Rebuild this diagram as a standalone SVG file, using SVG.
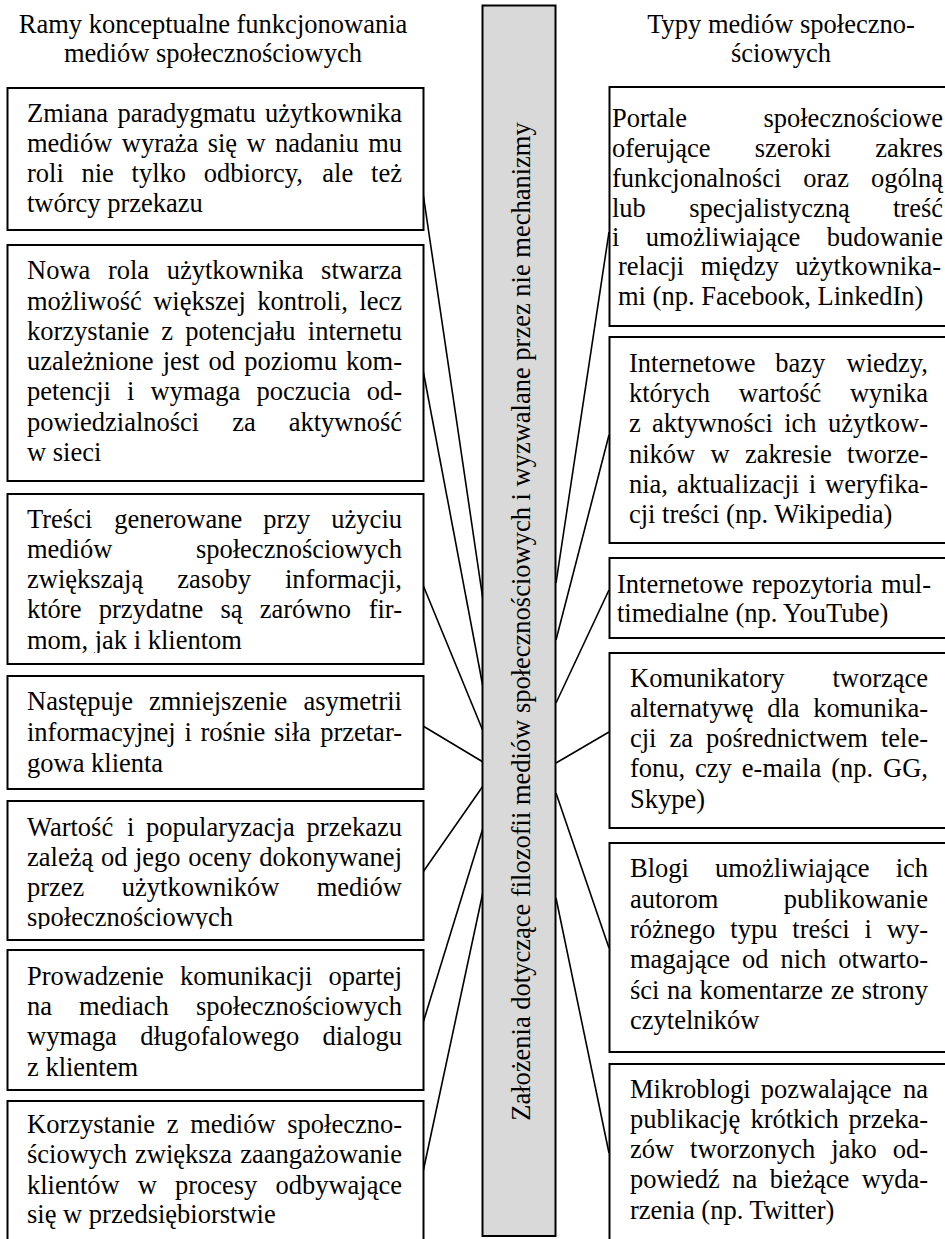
<svg xmlns="http://www.w3.org/2000/svg" width="945" height="1239" viewBox="0 0 945 1239">
<style>
.t{font-family:"Liberation Serif","Times New Roman",serif;font-size:26.5px;fill:#000}
.box{fill:#fff;stroke:#000;stroke-width:2}
.bar{fill:#d9d9d9;stroke:#000;stroke-width:2}
.c{stroke:#000;stroke-width:1.6;fill:none}
.e{text-anchor:end}
.m{text-anchor:middle}
</style>
<defs>
<clipPath id="clip3"><rect x="8" y="495" width="414" height="158"/></clipPath>
<clipPath id="clip5"><rect x="8" y="802" width="414" height="127"/></clipPath>
</defs>
<rect width="945" height="1239" fill="#fff"/>
<g id="titles">
<text class="t m" x="213" y="33">Ramy konceptualne funkcjonowania</text>
<text class="t m" x="213" y="62">mediów społecznościowych</text>
<text class="t m" x="781" y="33">Typy mediów społeczno-</text>
<text class="t m" x="781" y="62">ściowych</text>
</g>
<g id="connectors">
<line class="c" x1="423" y1="193" x2="483" y2="600"/>
<line class="c" x1="423" y1="370" x2="483" y2="687"/>
<line class="c" x1="423" y1="585" x2="483" y2="731"/>
<line class="c" x1="423" y1="726" x2="483" y2="762"/>
<line class="c" x1="423" y1="872" x2="483" y2="786"/>
<line class="c" x1="423" y1="1023" x2="483" y2="828"/>
<line class="c" x1="423" y1="1172" x2="483" y2="892"/>
<line class="c" x1="609" y1="232" x2="556" y2="583"/>
<line class="c" x1="609" y1="435" x2="556" y2="640"/>
<line class="c" x1="609" y1="590" x2="556" y2="703"/>
<line class="c" x1="609" y1="732" x2="556" y2="763"/>
<line class="c" x1="556" y1="793" x2="609" y2="948"/>
<line class="c" x1="556" y1="898" x2="609" y2="1153"/>
</g>
<g id="center">
<rect class="bar" x="482.5" y="5.5" width="73" height="1230.5"/>
<text class="t m" transform="translate(530 621.5) rotate(-90)" x="0" y="0">Założenia dotyczące filozofii mediów społecznościowych i wyzwalane przez nie mechanizmy</text>
</g>
<g id="left1">
<rect class="box" x="7.5" y="88" width="416" height="142"/>
<text class="t" y="122"><tspan x="27">Zmiana</tspan><tspan x="117.4">paradygmatu</tspan><tspan x="402" class="e">użytkownika</tspan></text>
<text class="t" y="152"><tspan x="27">mediów</tspan><tspan x="121.8">wyraża</tspan><tspan x="207.7">się</tspan><tspan x="246.4">w</tspan><tspan x="274.9">nadaniu</tspan><tspan x="402" class="e">mu</tspan></text>
<text class="t" y="182"><tspan x="27">roli</tspan><tspan x="81.5">nie</tspan><tspan x="131.6">tylko</tspan><tspan x="203.8">odbiorcy,</tspan><tspan x="322.3">ale</tspan><tspan x="402" class="e">też</tspan></text>
<text class="t" x="27" y="212">twórcy przekazu</text>
</g>
<g id="left2">
<rect class="box" x="7.5" y="245" width="416" height="236"/>
<text class="t" y="279"><tspan x="27">Nowa</tspan><tspan x="107.9">rola</tspan><tspan x="166.7">użytkownika</tspan><tspan x="402" class="e">stwarza</tspan></text>
<text class="t" y="310"><tspan x="27">możliwość</tspan><tspan x="153.2">większej</tspan><tspan x="257.3">kontroli,</tspan><tspan x="402" class="e">lecz</tspan></text>
<text class="t" y="340"><tspan x="27">korzystanie</tspan><tspan x="161.3">z</tspan><tspan x="185.2">potencjału</tspan><tspan x="402" class="e">internetu</tspan></text>
<text class="t" y="370"><tspan x="27">uzależnione</tspan><tspan x="162.7">jest</tspan><tspan x="208.6">od</tspan><tspan x="244.2">poziomu</tspan><tspan x="402" class="e">kom-</tspan></text>
<text class="t" y="400"><tspan x="27">petencji</tspan><tspan x="127">i</tspan><tspan x="150.5">wymaga</tspan><tspan x="256.4">poczucia</tspan><tspan x="402" class="e">od-</tspan></text>
<text class="t" y="431"><tspan x="27">powiedzialności</tspan><tspan x="232.2">za</tspan><tspan x="402" class="e">aktywność</tspan></text>
<text class="t" x="27" y="461">w sieci</text>
</g>
<g id="left3">
<rect class="box" x="7.5" y="494" width="416" height="170"/>
<g clip-path="url(#clip3)">
<text class="t" y="528"><tspan x="27">Treści</tspan><tspan x="114.2">generowane</tspan><tspan x="263.2">przy</tspan><tspan x="402" class="e">użyciu</tspan></text>
<text class="t" y="558"><tspan x="27">mediów</tspan><tspan x="402" class="e">społecznościowych</tspan></text>
<text class="t" y="588"><tspan x="27">zwiększają</tspan><tspan x="177.3">zasoby</tspan><tspan x="402" class="e">informacji,</tspan></text>
<text class="t" y="618"><tspan x="27">które</tspan><tspan x="98.7">przydatne</tspan><tspan x="220.4">są</tspan><tspan x="259.7">zarówno</tspan><tspan x="402" class="e">fir-</tspan></text>
<text class="t" x="27" y="649">mom, jak i klientom</text>
</g>
</g>
<g id="left4">
<rect class="box" x="7.5" y="676" width="416" height="113"/>
<text class="t" y="710"><tspan x="27">Następuje</tspan><tspan x="149">zmniejszenie</tspan><tspan x="402" class="e">asymetrii</tspan></text>
<text class="t" y="741"><tspan x="27">informacyjnej</tspan><tspan x="184.4">i</tspan><tspan x="200.5">rośnie</tspan><tspan x="274">siła</tspan><tspan x="402" class="e">przetar-</tspan></text>
<text class="t" x="27" y="772">gowa klienta</text>
</g>
<g id="left5">
<rect class="box" x="7.5" y="801" width="416" height="139"/>
<g clip-path="url(#clip5)">
<text class="t" y="836"><tspan x="27">Wartość</tspan><tspan x="127">i</tspan><tspan x="146.1">popularyzacja</tspan><tspan x="402" class="e">przekazu</tspan></text>
<text class="t" y="866"><tspan x="27">zależą</tspan><tspan x="100.9">od</tspan><tspan x="135">jego</tspan><tspan x="188.3">oceny</tspan><tspan x="402" class="e">dokonywanej</tspan></text>
<text class="t" y="896"><tspan x="27">przez</tspan><tspan x="121.8">użytkowników</tspan><tspan x="402" class="e">mediów</tspan></text>
<text class="t" x="27" y="926">społecznościowych</text>
</g>
</g>
<g id="left6">
<rect class="box" x="7.5" y="950" width="416" height="140"/>
<text class="t" y="985"><tspan x="27">Prowadzenie</tspan><tspan x="179.9">komunikacji</tspan><tspan x="402" class="e">opartej</tspan></text>
<text class="t" y="1015"><tspan x="27">na</tspan><tspan x="79">mediach</tspan><tspan x="402" class="e">społecznościowych</tspan></text>
<text class="t" y="1045"><tspan x="27">wymaga</tspan><tspan x="140.2">długofalowego</tspan><tspan x="402" class="e">dialogu</tspan></text>
<text class="t" x="27" y="1076">z klientem</text>
</g>
<g id="left7">
<rect class="box" x="7.5" y="1101" width="416" height="160"/>
<text class="t" y="1133"><tspan x="27">Korzystanie</tspan><tspan x="166.7">z</tspan><tspan x="190.2">mediów</tspan><tspan x="402" class="e">społeczno-</tspan></text>
<text class="t" y="1163"><tspan x="27">ściowych</tspan><tspan x="135">zwiększa</tspan><tspan x="402" class="e">zaangażowanie</tspan></text>
<text class="t" y="1194"><tspan x="27">klientów</tspan><tspan x="137.8">w</tspan><tspan x="174.9">procesy</tspan><tspan x="402" class="e">odbywające</tspan></text>
<text class="t" x="27" y="1223">się w przedsiębiorstwie</text>
</g>
<g id="right1">
<rect class="box" x="609.5" y="87" width="345" height="239"/>
<text class="t" y="127"><tspan x="612">Portale</tspan><tspan x="943" class="e">społecznościowe</tspan></text>
<text class="t" y="157"><tspan x="612">oferujące</tspan><tspan x="754.7">szeroki</tspan><tspan x="943" class="e">zakres</tspan></text>
<text class="t" y="187"><tspan x="612">funkcjonalności</tspan><tspan x="803.3">oraz</tspan><tspan x="943" class="e">ogólną</tspan></text>
<text class="t" y="217"><tspan x="612">lub</tspan><tspan x="689.3">specjalistyczną</tspan><tspan x="943" class="e">treść</tspan></text>
<text class="t" y="246"><tspan x="612">i</tspan><tspan x="645.8">umożliwiające</tspan><tspan x="943" class="e">budowanie</tspan></text>
<text class="t" y="275"><tspan x="618">relacji</tspan><tspan x="700.7">między</tspan><tspan x="941" class="e">użytkownika-</tspan></text>
<text class="t" x="618" y="305">mi (np. Facebook, LinkedIn)</text>
</g>
<g id="right2">
<rect class="box" x="609.5" y="337" width="345" height="206"/>
<text class="t" y="372"><tspan x="629">Internetowe</tspan><tspan x="775.2">bazy</tspan><tspan x="928" class="e">wiedzy,</tspan></text>
<text class="t" y="402"><tspan x="629">których</tspan><tspan x="738.8">wartość</tspan><tspan x="928" class="e">wynika</tspan></text>
<text class="t" y="432"><tspan x="629">z</tspan><tspan x="652.1">aktywności</tspan><tspan x="784.2">ich</tspan><tspan x="928" class="e">użytkow-</tspan></text>
<text class="t" y="463"><tspan x="629">ników</tspan><tspan x="710.6">w</tspan><tspan x="745">zakresie</tspan><tspan x="928" class="e">tworze-</tspan></text>
<text class="t" y="493"><tspan x="629">nia,</tspan><tspan x="676.9">aktualizacji</tspan><tspan x="808.8">i</tspan><tspan x="928" class="e">weryfika-</tspan></text>
<text class="t" x="629" y="523">cji treści (np. Wikipedia)</text>
</g>
<g id="right3">
<rect class="box" x="609.5" y="558" width="345" height="80"/>
<text class="t" y="593"><tspan x="617">Internetowe</tspan><tspan x="751.9">repozytoria</tspan><tspan x="931" class="e">mul-</tspan></text>
<text class="t" x="617" y="622">timedialne (np. YouTube)</text>
</g>
<g id="right4">
<rect class="box" x="609.5" y="653" width="345" height="175"/>
<text class="t" y="687"><tspan x="630">Komunikatory</tspan><tspan x="928" class="e">tworzące</tspan></text>
<text class="t" y="717"><tspan x="630">alternatywę</tspan><tspan x="767.2">dla</tspan><tspan x="928" class="e">komunika-</tspan></text>
<text class="t" y="747"><tspan x="630">cji</tspan><tspan x="669.5">za</tspan><tspan x="706">pośrednictwem</tspan><tspan x="928" class="e">tele-</tspan></text>
<text class="t" y="777"><tspan x="630">fonu,</tspan><tspan x="695.1">czy</tspan><tspan x="741.8">e-maila</tspan><tspan x="831.2">(np.</tspan><tspan x="928" class="e">GG,</tspan></text>
<text class="t" x="630" y="808">Skype)</text>
</g>
<g id="right5">
<rect class="box" x="609.5" y="843" width="345" height="209"/>
<text class="t" y="877"><tspan x="630">Blogi</tspan><tspan x="715">umożliwiające</tspan><tspan x="928" class="e">ich</tspan></text>
<text class="t" y="908"><tspan x="630">autorom</tspan><tspan x="928" class="e">publikowanie</tspan></text>
<text class="t" y="938"><tspan x="630">różnego</tspan><tspan x="730.3">typu</tspan><tspan x="792.3">treści</tspan><tspan x="864.6">i</tspan><tspan x="928" class="e">wy-</tspan></text>
<text class="t" y="968"><tspan x="630">magające</tspan><tspan x="742.1">od</tspan><tspan x="780.6">nich</tspan><tspan x="928" class="e">otwarto-</tspan></text>
<text class="t" y="999"><tspan x="630">ści</tspan><tspan x="667">na</tspan><tspan x="699.5">komentarze</tspan><tspan x="830.7">ze</tspan><tspan x="928" class="e">strony</tspan></text>
<text class="t" x="630" y="1029">czytelników</text>
</g>
<g id="right6">
<rect class="box" x="609.5" y="1064" width="345" height="200"/>
<text class="t" y="1098"><tspan x="630">Mikroblogi</tspan><tspan x="760.7">pozwalające</tspan><tspan x="928" class="e">na</tspan></text>
<text class="t" y="1128"><tspan x="630">publikację</tspan><tspan x="750.4">krótkich</tspan><tspan x="928" class="e">przeka-</tspan></text>
<text class="t" y="1158"><tspan x="630">zów</tspan><tspan x="690.1">tworzonych</tspan><tspan x="831.2">jako</tspan><tspan x="928" class="e">od-</tspan></text>
<text class="t" y="1188"><tspan x="630">powiedź</tspan><tspan x="732.3">na</tspan><tspan x="769.8">bieżące</tspan><tspan x="928" class="e">wyda-</tspan></text>
<text class="t" x="630" y="1219">rzenia (np. Twitter)</text>
</g>
</svg>
